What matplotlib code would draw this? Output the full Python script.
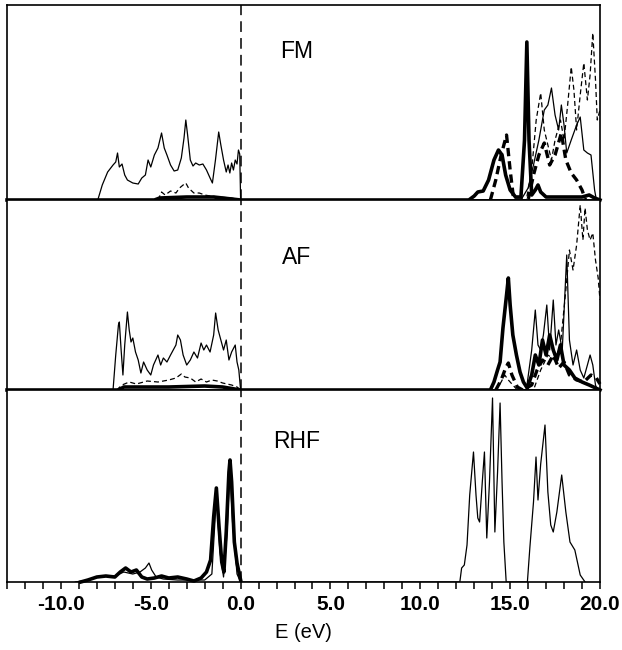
import matplotlib
matplotlib.use("Agg")
import matplotlib.pyplot as plt
from matplotlib.ticker import MultipleLocator, FormatStrFormatter

plt.rcParams['font.family'] = ['Liberation Sans', 'DejaVu Sans']
plt.rcParams['axes.unicode_minus'] = False

# ---- FM ----
fm_thin_e = [-7.95, -7.7, -7.4, -7.1, -6.95, -6.85, -6.75, -6.6, -6.45, -6.3, -6.0, -5.7,
             -5.5, -5.3, -5.15, -5.0, -4.8, -4.6, -4.4, -4.25, -4.1, -3.9, -3.7, -3.5,
             -3.3, -3.15, -3.05, -2.95, -2.8, -2.65, -2.5, -2.3, -2.1, -1.9, -1.7, -1.57,
             -1.4, -1.22, -1.1, -0.95, -0.8, -0.7, -0.6, -0.5, -0.4, -0.3, -0.2, -0.12,
             -0.05, 0.0,
             15.6, 16.0, 16.3, 16.6, 16.9, 17.1, 17.3, 17.5, 17.7, 17.85, 18.0, 18.15,
             18.4, 18.7, 18.9, 19.1, 19.3, 19.5, 19.7, 19.8]
fm_thin_dos = [0, 15, 28, 35, 38, 47, 33, 36, 25, 20, 17, 16,
               22, 25, 40, 33, 45, 52, 67, 52, 45, 35, 29, 30,
               42, 62, 80, 65, 40, 34, 37, 35, 36, 30, 22, 17,
               40, 68, 55, 40, 28, 35, 27, 37, 30, 40, 36, 50,
               46, 0,
               0, 12, 35, 60, 90, 95, 112, 85, 70, 95, 75, 47,
               60, 75, 83, 50, 47, 45, 10, 0]

fm_dash_e = [-4.6, -4.4, -4.2, -3.9, -3.6, -3.4, -3.2, -3.05, -2.9, -2.6, -2.3, -2.0,
             -1.7, -1.2, -0.5, 0.0,
             15.9, 16.2, 16.45, 16.7, 16.9, 17.1, 17.3, 17.5, 17.8, 18.0, 18.2, 18.4,
             18.55, 18.7, 18.9, 19.1, 19.3, 19.45, 19.6, 19.75, 19.85, 20.0]
fm_dash_dos = [0, 8, 5, 9, 7, 12, 15, 17, 12, 7, 7, 5,
               4, 3, 2, 0,
               0, 30, 80, 107, 70, 55, 40, 60, 80, 60, 95, 133,
               110, 70, 105, 137, 100, 125, 167, 120, 80, 90]

fm_thick_e = [-13.0, -4.8, -4.5, -3.0, -1.5, -1.0, 0.0, 12.7, 13.0, 13.2, 13.5, 13.8,
              14.1, 14.35, 14.55, 14.75, 15.0, 15.3, 15.6, 15.8, 15.93, 16.05, 16.2,
              16.4, 16.55, 16.7, 17.0, 19.0, 19.4, 19.7, 20.0]
fm_thick_dos = [0, 0, 2, 3, 3, 2, 0, 0, 4, 8, 9, 20,
                40, 50, 45, 25, 10, 3, 3, 60, 158, 60, 5,
                10, 15, 8, 3, 3, 5, 2, 0]

fm_thickdash_e = [13.9, 14.2, 14.5, 14.8, 15.0, 15.2, 16.0, 16.3, 16.6, 16.9, 17.2, 17.5,
                  17.85, 18.1, 18.4, 18.7, 19.0, 19.2]
fm_thickdash_dos = [0, 20, 45, 65, 30, 0, 0, 25, 45, 57, 35, 45,
                    67, 40, 27, 20, 10, 0]

# ---- AF ----
af_thin_e = [-7.1, -6.95, -6.8, -6.75, -6.65, -6.55, -6.45, -6.3, -6.2, -6.1, -6.0, -5.85,
             -5.7, -5.55, -5.4, -5.2, -5.0, -4.85, -4.6, -4.45, -4.3, -4.1, -3.9, -3.6,
             -3.5, -3.35, -3.2, -3.0, -2.8, -2.6, -2.4, -2.2, -2.05, -1.9, -1.7, -1.5,
             -1.39, -1.25, -1.1, -0.95, -0.8, -0.65, -0.5, -0.3, -0.2, -0.1, 0.0,
             15.9, 16.2, 16.4, 16.55, 16.7, 16.85, 17.04, 17.2, 17.4, 17.55, 17.7, 17.9,
             18.15, 18.3, 18.5, 18.7, 18.9, 19.1, 19.3, 19.45, 19.6, 19.75, 19.85]
af_thin_dos = [0, 35, 65, 68, 40, 15, 45, 78, 60, 48, 52, 38,
               30, 17, 28, 20, 15, 25, 35, 25, 32, 28, 35, 45,
               55, 50, 35, 25, 30, 38, 32, 47, 40, 45, 38, 55,
               77, 60, 50, 40, 50, 30, 38, 45, 28, 20, 0,
               0, 40, 80, 45, 40, 55, 85, 40, 90, 45, 60, 40,
               135, 50, 25, 40, 20, 12, 25, 35, 25, 5, 0]

af_dash_e = [-6.9, -6.6, -6.2, -5.8, -5.2, -4.6, -4.0, -3.6, -3.3, -3.1, -2.8, -2.5,
             -2.2, -1.9, -1.6, -1.3, -1.0, -0.5, -0.2, 0.0,
             14.2, 14.5, 14.7, 14.9, 15.1, 15.4, 16.3, 16.7, 17.1, 17.5, 17.8, 18.1,
             18.3, 18.5, 18.7, 18.9, 19.05, 19.17, 19.3, 19.45, 19.6, 19.75, 19.9, 20.0]
af_dash_dos = [0, 5, 8, 6, 9, 8, 10, 12, 16, 13, 12, 8,
               11, 8, 10, 9, 7, 5, 3, 0,
               0, 8, 15, 10, 6, 0, 0, 20, 35, 30, 45, 100,
               140, 120, 145, 185, 150, 182, 160, 150, 157, 130, 112, 90]

af_thick_e = [-13.0, -6.8, -6.5, -4.0, -2.0, -1.0, 0.0, 13.9, 14.1, 14.3, 14.44, 14.6,
              14.8, 14.9, 15.0, 15.15, 15.35, 15.55, 15.74, 15.95, 16.2, 16.4, 16.6,
              16.8, 17.0, 17.2, 17.4, 17.6, 17.8, 18.0, 18.3, 18.6, 19.0, 19.4, 20.0]
af_thick_dos = [0, 0, 3, 3, 4, 3, 0, 0, 8, 20, 28, 62,
                95, 112, 85, 55, 35, 18, 8, 2, 15, 35, 25,
                50, 35, 55, 40, 30, 45, 25, 20, 12, 8, 5, 0]

af_thickdash_e = [14.2, 14.5, 14.75, 14.9, 15.1, 15.4, 15.7, 16.2, 16.5, 16.8, 17.1, 17.4,
                  17.7, 18.0, 18.3, 18.7, 19.1, 19.5, 19.8, 20.0]
af_thickdash_dos = [0, 10, 22, 27, 15, 3, 0, 5, 20, 30, 25, 35,
                    22, 28, 15, 10, 8, 15, 12, 6]

# ---- RHF ----
rhf_thick_e = [-8.9, -8.5, -8.0, -7.5, -7.0, -6.7, -6.4, -6.1, -5.8, -5.5, -5.2, -4.8,
               -4.4, -4.0, -3.5, -3.0, -2.6, -2.2, -1.9, -1.67, -1.5, -1.35, -1.2, -1.05,
               -0.93, -0.8, -0.65, -0.59, -0.5, -0.35, -0.2, 0.0]
rhf_thick_dos = [0, 2, 5, 6, 5, 10, 14, 10, 12, 5, 3, 4,
                 6, 4, 5, 3, 1, 4, 10, 22, 65, 94, 55, 20,
                 10, 50, 110, 122, 100, 40, 19, 2]

rhf_thin_e = [-9.2, -8.5, -8.0, -7.5, -7.0, -6.5, -6.0, -5.6, -5.3, -5.1, -4.95, -4.7,
              -4.3, -3.5, -2.0, -1.6, -1.35, -1.15, -0.95, -0.75, -0.6, -0.45, -0.2, 0.0,
              12.2, 12.3, 12.45, 12.6, 12.75, 12.96, 13.1, 13.2, 13.3, 13.45, 13.57, 13.7,
              13.85, 14.02, 14.15, 14.3, 14.44, 14.55, 14.65, 14.78,
              15.96, 16.1, 16.3, 16.44, 16.55, 16.7, 16.94, 17.1, 17.26, 17.4, 17.6, 17.87,
              18.1, 18.33, 18.6, 18.9, 19.17]
rhf_thin_dos = [0, 2, 5, 6, 6, 10, 8, 10, 14, 19, 12, 5,
                3, 2, 2, 8, 85, 30, 5, 50, 115, 60, 8, 0,
                0, 14, 17, 37, 87, 130, 87, 64, 60, 100, 130, 44,
                100, 184, 50, 110, 179, 100, 40, 0,
                0, 35, 80, 125, 82, 118, 157, 90, 57, 50, 70, 107,
                70, 40, 32, 7, 0]

panels = [
    ("FM", 195, 0.76,
     [(fm_thin_e, fm_thin_dos, '-', 0.9), (fm_dash_e, fm_dash_dos, '--', 0.9),
      (fm_thickdash_e, fm_thickdash_dos, '--', 2.4), (fm_thick_e, fm_thick_dos, '-', 2.6)]),
    ("AF", 190, 0.70,
     [(af_thin_e, af_thin_dos, '-', 0.9), (af_dash_e, af_dash_dos, '--', 0.9),
      (af_thickdash_e, af_thickdash_dos, '--', 2.4), (af_thick_e, af_thick_dos, '-', 2.6)]),
    ("RHF", 192, 0.73,
     [(rhf_thin_e, rhf_thin_dos, '-', 0.9), (rhf_thick_e, rhf_thick_dos, '-', 2.6)]),
]

fig = plt.figure(figsize=(6.22, 6.5), dpi=100)
gs = fig.add_gridspec(3, 1, height_ratios=[p[1] for p in panels], hspace=0,
                      left=0.0113, right=0.9646, top=0.9923, bottom=0.1046)

axes = []
for i, (label, ymax, ylab, curves) in enumerate(panels):
    ax = fig.add_subplot(gs[i])
    for e, dos, ls, lw in curves:
        line, = ax.plot(e, dos, color='black', linestyle=ls, linewidth=lw,
                        clip_on=(lw < 2))
        if ls == '--':
            line.set_dashes((4, 2.5) if lw < 2 else (2.5, 1.5))
    ax.axvline(0.0, color='black', linewidth=1.1, dashes=(7, 4))
    ax.set_xlim(-13, 20)
    ax.set_ylim(0, ymax)
    ax.set_yticks([])
    ax.text(3.1, ylab * ymax, label, fontsize=16.5, ha='center', va='center')
    for s in ax.spines.values():
        s.set_linewidth(1.2)
    ax.xaxis.set_major_locator(MultipleLocator(5))
    ax.xaxis.set_minor_locator(MultipleLocator(1))
    ax.tick_params(axis='x', which='both', direction='out', width=1.1)
    ax.tick_params(axis='x', which='major', length=5)
    ax.tick_params(axis='x', which='minor', length=5)
    if i < 2:
        ax.tick_params(axis='x', which='both', bottom=False, labelbottom=False)
    axes.append(ax)

axes[-1].xaxis.set_major_formatter(FormatStrFormatter('%.1f'))
axes[-1].tick_params(axis='x', labelsize=15, pad=4)
for t in axes[-1].get_xticklabels():
    t.set_fontweight('bold')
axes[-1].set_xlabel('E (eV)', fontsize=14.5, labelpad=7)

fig.savefig('out.png', dpi=100)
